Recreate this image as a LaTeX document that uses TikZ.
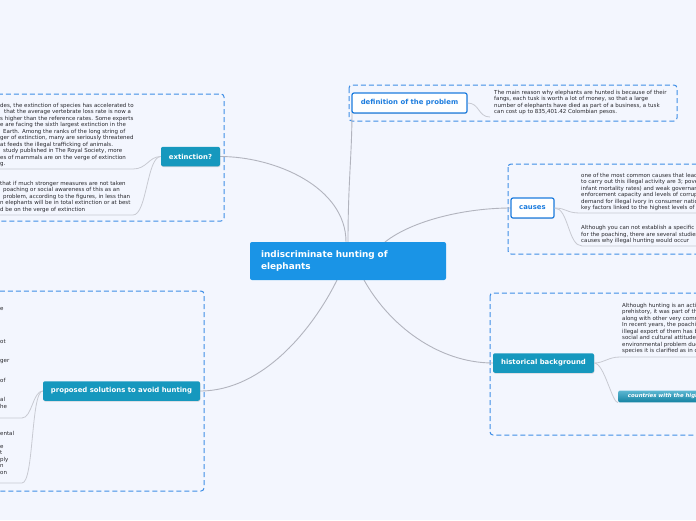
\documentclass[tikz,border=0pt]{standalone}
\usepackage{fontspec}
\setmainfont{DejaVu Sans}
\usetikzlibrary{positioning,shadows}
\definecolor{bgcol}{RGB}{243,246,254}
\definecolor{framecol}{RGB}{62,142,230}
\definecolor{hubblue}{RGB}{26,148,230}
\definecolor{linkblue}{RGB}{28,124,222}
\definecolor{topicteal}{RGB}{22,152,190}
\definecolor{wirecol}{RGB}{178,180,190}
\definecolor{subwire}{RGB}{200,202,210}
\definecolor{txtcol}{RGB}{40,40,45}
\tikzset{
  groupbox/.style={draw=framecol, line width=1pt, dash pattern=on 5pt off 3pt, rounded corners=3pt},
  hubnode/.style={fill=hubblue, rounded corners=2pt, text=white, font=\bfseries\fontsize{8.9}{12}\selectfont, align=left, text width=174pt, inner xsep=11pt, minimum height=38pt},
  linknode/.style={draw=linkblue, line width=1.2pt, fill=white, rounded corners=2pt, text=linkblue, font=\bfseries\fontsize{6.9}{8}\selectfont, minimum height=20pt, inner xsep=0pt, drop shadow={shadow xshift=0.4pt, shadow yshift=-0.8pt, opacity=0.25}},
  tealnode/.style={fill=topicteal, rounded corners=2pt, text=white, font=\bfseries\fontsize{6.9}{8}\selectfont, minimum height=19.5pt, inner xsep=0pt, drop shadow={shadow xshift=0.4pt, shadow yshift=-0.8pt, opacity=0.3}},
  leafnode/.style={top color=topicteal!70!white, bottom color=topicteal!85!black, rounded corners=2pt, text=white, font=\bfseries\itshape\fontsize{5.4}{6}\selectfont, minimum height=11pt, inner xsep=4pt, anchor=west},
  notes/.style={anchor=north west, align=left, inner sep=0pt, text=txtcol, font=\fontsize{5.5}{6.5}\selectfont},
  mainwire/.style={draw=wirecol, line width=0.9pt},
  leafwire/.style={draw=subwire, line width=0.8pt}
}
\begin{document}
\begin{tikzpicture}[x=1pt, y=-1pt]
  \fill[bgcol] (0,0) rectangle (696,520);
  \clip (0,0) rectangle (696,520);
  % dashed groups
  \draw[groupbox] (-20,94) rectangle (224,221);
  \draw[groupbox] (349,85) rectangle (677,121);
  \draw[groupbox] (508,164) rectangle (720,254);
  \draw[groupbox] (-20,291) rectangle (204,491);
  \draw[groupbox] (490,293) rectangle (720,435);

  % main links
  \coordinate (hubtop) at (348,242);
  \draw[mainwire] (hubtop) .. controls +(0,-60) and +(0,45) .. (352,110);
  \draw[mainwire] (385,242) .. controls +(28,-22) and +(-45,0) .. (511,208);
  \draw[mainwire] (346,242) .. controls +(0,-55) and +(55,0) .. (220,156.5);
  \draw[mainwire] (337,280) .. controls +(-22,45) and +(65,0) .. (200,391);
  \draw[mainwire] (364,280) .. controls +(25,45) and +(-55,0) .. (493,363);

  % topic nodes
  \node[hubnode] (hub) at (348,261) {indiscriminate hunting of\\elephants};
  \node[linknode, minimum width=115pt] (defn) at (409.5,103) {definition of the problem};
  \node[linknode, minimum width=43pt] (causes) at (532.5,208) {causes};
  \node[tealnode, minimum width=59pt] (extn) at (190.5,156.5) {extinction?};
  \node[tealnode, minimum width=157pt] (prop) at (121.5,391) {proposed solutions to avoid hunting};
  \node[tealnode, minimum width=101pt] (hist) at (543.5,363) {historical background};
  \node[leafnode, minimum width=100pt] (countries) at (618,396.5) {countries with the highest};

  % leaf links
  \coordinate (d1) at (490,117);
  \draw[leafwire] (defn.east) .. controls +(12,0) and +(-12,0) .. (d1);
  \coordinate (c1) at (580,213);
  \coordinate (c2) at (582,246);
  \draw[leafwire] (causes.east) .. controls +(12,0) and +(-14,0) .. (c1) -- (700,213);
  \draw[leafwire] (causes.east) .. controls +(14,0) and +(-14,0) .. (c2) -- (700,246);
  \coordinate (e1) at (133,169);
  \coordinate (e2) at (133,215);
  \draw[leafwire] (extn.west) .. controls +(-12,0) and +(14,0) .. (e1) -- (-5,169);
  \draw[leafwire] (extn.west) .. controls +(-14,0) and +(14,0) .. (e2) -- (-5,215);
  \coordinate (p1) at (22,418);
  \coordinate (p2) at (22,483);
  \draw[leafwire] (prop.west) .. controls +(-10,0) and +(10,0) .. (p1) -- (-5,418);
  \draw[leafwire] (prop.west) .. controls +(-12,0) and +(12,0) .. (p2) -- (-5,483);
  \coordinate (h1) at (620,357);
  \draw[leafwire] (hist.east) .. controls +(10,0) and +(-12,0) .. (h1) -- (700,357);
  \draw[leafwire] (hist.east) .. controls +(10,0) and +(-6,0) .. (countries.south west);

  % notes
  \node[notes] (defnote) at (494,90) {The main reason why elephants are hunted is because of their\\fangs, each tusk is worth a lot of money, so that a large\\number of elephants have died as part of a business, a tusk\\can cost up to 835,401.42 Colombian pesos.};
  \node[notes] (causenote) at (581,173) {one of the most common causes that lead\\to carry out this illegal activity are 3; poverty\\infant mortality rates) and weak governance\\enforcement capacity and levels of corruption\\demand for illegal ivory in consumer nations\\key factors linked to the highest levels of};
  \node[notes] (causenote2) at (581,225.5) {Although you can not establish a specific\\for the poaching, there are several studies\\causes why illegal hunting would occur};
  \node[notes] (extnote) at (0,102.7) {des, the extinction of species has accelerated to\\\hspace*{4pt}that the average vertebrate loss rate is now a\\s higher than the reference rates. Some experts\\e are facing the sixth largest extinction in the\\\hspace*{3pt}Earth. Among the ranks of the long string of\\ger of extinction, many are seriously threatened\\at feeds the illegal trafficking of animals.\\\hspace*{3pt}study published in The Royal Society, more\\es of mammals are on the verge of extinction\\g.};
  \node[notes] (extnote2) at (0,180.7) {that if much stronger measures are not taken\\\hspace*{3pt}poaching or social awareness of this as an\\\hspace*{3pt}problem, according to the figures, in less than\\n elephants will be in total extinction or at best\\d be on the verge of extinction};
  \node[notes] (propnote) at (0,307.7) {e\\[26pt]ot\\[13pt]ger\\[13pt]of\\[13pt]al\\he};
  \node[notes] (propnote2) at (0,430.7) {ental\\[6.5pt]e\\t\\ply\\n\\on};
  \node[notes] (histnote) at (622,302.7) {Although hunting is an activity\\prehistory, it was part of the\\along with other very common\\In recent years, the poaching\\illegal export of them has been\\social and cultural attitude,\\environmental problem due\\species it is clarified as in danger};
\end{tikzpicture}
\end{document}
